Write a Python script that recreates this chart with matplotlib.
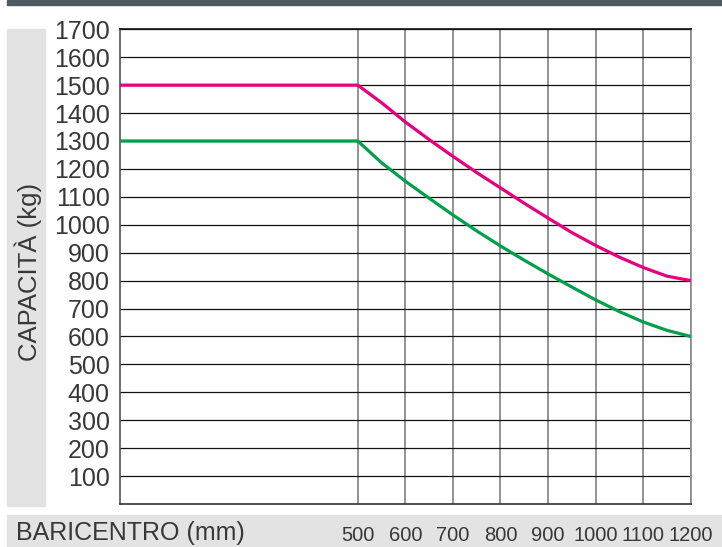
import matplotlib
matplotlib.use("Agg")
import matplotlib.pyplot as plt
from matplotlib.patches import Rectangle

# capacity curves (mm -> kg)
baricentro = [0, 500, 550, 600, 650, 700, 750, 800, 850, 900, 950, 1000, 1050, 1100, 1150, 1200]
cap_pink = [1500, 1500, 1437, 1368, 1305, 1245, 1187, 1132, 1077, 1024, 972, 926, 884, 847, 816, 800]
cap_green = [1300, 1300, 1222, 1156, 1095, 1035, 978, 924, 873, 824, 777, 731, 689, 652, 622, 600]

x_ticks = [500, 600, 700, 800, 900, 1000, 1100, 1200]
y_ticks = [100, 200, 300, 400, 500, 600, 700, 800, 900, 1000, 1100, 1200, 1300, 1400, 1500, 1600, 1700]

plt.rcParams['font.family'] = ['Liberation Sans', 'DejaVu Sans']
txt_col = '#383838'

W, H = 722, 547
fig = plt.figure(figsize=(W / 100, H / 100), dpi=100)

# background bands
fig.patches.append(Rectangle((7 / W, 1 - 4.7 / H), 1, 4.7 / H, transform=fig.transFigure,
                             color='#4d5b61', zorder=-1))
fig.patches.append(Rectangle((7 / W, (H - 505.5) / H), 38 / W, 476.5 / H, transform=fig.transFigure,
                             color='#e3e3e4', zorder=-1))
fig.patches.append(Rectangle((7 / W, 0), 1, 32 / H, transform=fig.transFigure,
                             color='#e3e3e4', zorder=-1))

ax = fig.add_axes([120 / W, (H - 504) / H, (690.7 - 120) / W, (504 - 29.3) / H])
ax.set_xlim(0, 1200)
ax.set_ylim(0, 1700)

ax.plot(baricentro, cap_pink, color='#e5007d', lw=2.3, solid_capstyle='butt', zorder=3)
ax.plot(baricentro, cap_green, color='#00a04b', lw=2.3, solid_capstyle='butt', zorder=3)

ax.set_xticks(x_ticks)
ax.set_xticklabels([str(v) for v in x_ticks])
ax.set_yticks(y_ticks)
ax.set_yticklabels([str(v) for v in y_ticks])
ax.tick_params(axis='both', length=0, labelcolor=txt_col)
ax.tick_params(axis='x', pad=16, labelsize=14.5)
ax.tick_params(axis='y', pad=7.5, labelsize=18)

ax.yaxis.grid(True, color='#111111', lw=0.9, zorder=1)
ax.xaxis.grid(True, color='#8a8a8a', lw=1.3, zorder=1)
ax.set_axisbelow(True)

ax.spines['top'].set_color('#111111')
ax.spines['bottom'].set_color('#333333')
ax.spines['left'].set_color('#555555')
ax.spines['right'].set_color('#8a8a8a')
for s in ax.spines.values():
    s.set_linewidth(1.2)

fig.text(28 / W, 1 - 272 / H, 'CAPACITÀ (kg)', rotation=90, ha='center', va='center',
         fontsize=18.5, color=txt_col)
fig.text(16 / W, 1 - 533 / H, 'BARICENTRO (mm)', ha='left', va='center',
         fontsize=18, color=txt_col)

fig.savefig('out.png', dpi=100)
